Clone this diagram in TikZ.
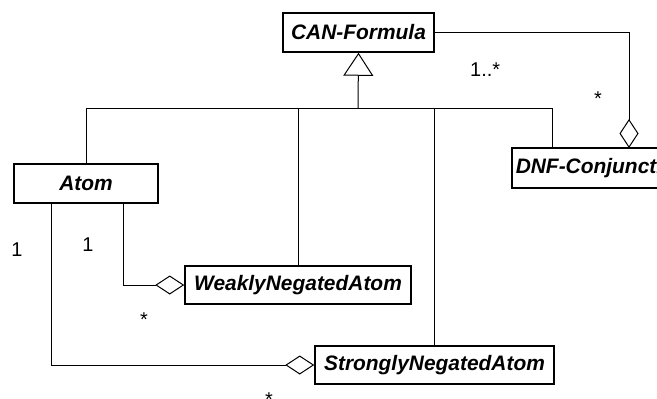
\documentclass[tikz,border=0pt]{standalone}
\usepackage{fontspec}
\setmainfont{Liberation Sans}
\usetikzlibrary{arrows.meta}
\begin{document}
\begin{tikzpicture}[x=1bp,y=-1bp,
  cls/.style={draw, line width=1.5bp, fill=white, inner sep=0pt,
    font=\bfseries\itshape\fontsize{21}{21}\selectfont},
  link/.style={line width=1bp},
  agg/.style={link, -{Diamond[open, length=29bp, width=19bp, line width=1bp]}},
  gen/.style={link, -{Triangle[open, length=23bp, width=30bp, line width=1bp]}},
  mult/.style={inner sep=0pt, font=\fontsize{20}{20}\selectfont}]
\useasboundingbox (0,0) rectangle (657,398);

% classes
\node[cls, minimum width=151bp, minimum height=39bp] (can) at (358.5,32.5) {CAN-Formula};
\node[cls, minimum width=144bp, minimum height=39bp] (atom) at (86,183.5) {Atom};
\node[cls, minimum width=226bp, minimum height=38bp] (weak) at (298,285) {WeaklyNegatedAtom};
\node[cls, minimum width=239bp, minimum height=38bp] (strong) at (434.5,365) {StronglyNegatedAtom};
\node[cls, minimum height=40bp, anchor=west, inner xsep=4bp] (dnf) at (511,168) {DNF-Conjunction\hspace{20bp}};

% generalization tree
\coordinate (busL) at (86,108);
\coordinate (busR) at (552,108);
\coordinate (stem) at (358,108);
\draw[link] (atom.north) -- (busL) -- (busR) -- (busR |- dnf.north);
\draw[link] (weak.north) -- (weak.north |- busL);
\draw[link] (strong.north) -- (strong.north |- busL);
\draw[gen] (stem) -- (can.south);

% aggregations
\coordinate (dnfTop) at (629,148);
\draw[agg] (can.east) -| (dnfTop);
\coordinate (atomR) at (123,203);
\coordinate (atomL) at (51,203);
\draw[agg] (atomR) |- (weak.west);
\draw[agg] (atomL) |- (strong.west);

% multiplicities
\node[mult, anchor=north west] (m1) at (470,63) {1..*};
\node[mult, anchor=north] (m2) at (598,92) {*};
\node[mult, anchor=north] (m3) at (17,243) {1};
\node[mult, anchor=north] (m4) at (88,238) {1};
\node[mult, anchor=north] (m5) at (144,313) {*};
\node[mult, anchor=north] (m6) at (269,393) {*};
\end{tikzpicture}
\end{document}
